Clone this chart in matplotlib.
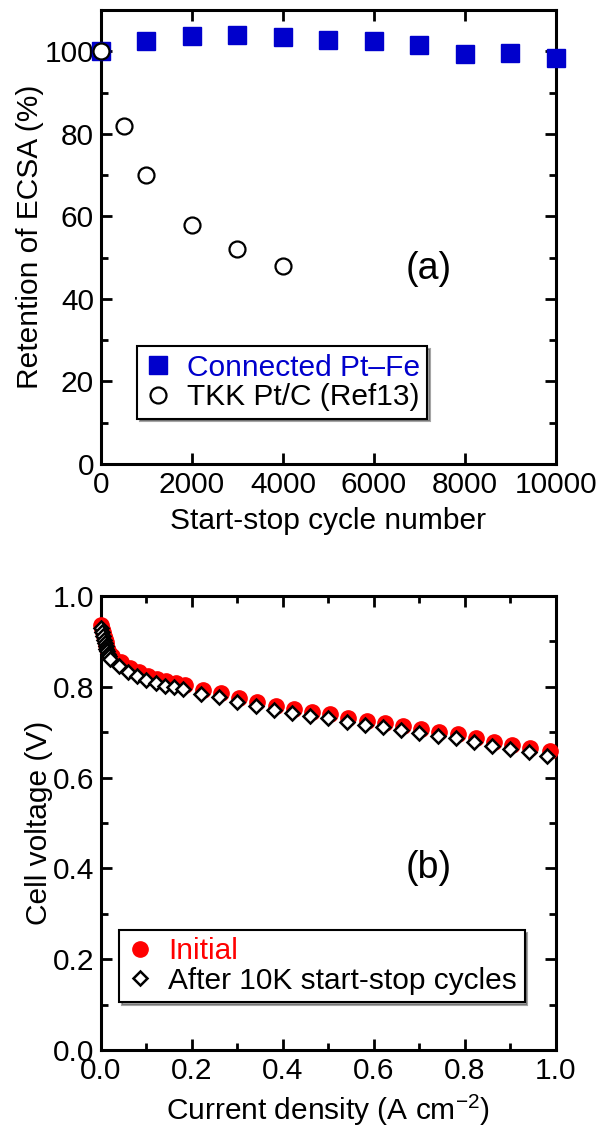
import matplotlib.pyplot as plt
from matplotlib.ticker import MultipleLocator

plt.rcParams["font.family"] = ["Liberation Sans", "DejaVu Sans"]
plt.rcParams["mathtext.fontset"] = "custom"
plt.rcParams["mathtext.rm"] = "Liberation Sans"

# (a) ECSA retention
cycles_ptfe = [0, 1000, 2000, 3000, 4000, 5000, 6000, 7000, 8000, 9000, 10000]
ecsa_ptfe = [100, 102.5, 103.7, 104.0, 103.4, 102.8, 102.5, 101.6, 99.4, 99.6, 98.4]
cycles_tkk = [0, 500, 1000, 2000, 3000, 4000]
ecsa_tkk = [100, 82, 70, 58, 52, 48]

# (b) polarization curves
j_after = [0.0, 0.002, 0.004, 0.006, 0.008, 0.010, 0.012, 0.014, 0.016, 0.018,
           0.02, 0.04, 0.06, 0.08, 0.10, 0.12, 0.14, 0.16, 0.18,
           0.22, 0.26, 0.30, 0.34, 0.38, 0.42, 0.46, 0.50, 0.54, 0.58, 0.62,
           0.66, 0.70, 0.74, 0.78, 0.82, 0.86, 0.90, 0.94, 0.98]
v_after = [0.930, 0.921, 0.912, 0.904, 0.897, 0.890, 0.884, 0.878, 0.872, 0.867,
           0.861, 0.845, 0.832, 0.823, 0.815, 0.808, 0.803, 0.799, 0.795,
           0.784, 0.777, 0.766, 0.758, 0.749, 0.742, 0.735, 0.731, 0.723, 0.716, 0.711,
           0.704, 0.698, 0.692, 0.687, 0.679, 0.670, 0.663, 0.657, 0.648]
j_init = [0.0, 0.002, 0.004, 0.006, 0.008, 0.010, 0.012, 0.014, 0.016, 0.018,
          0.024, 0.044, 0.064, 0.084, 0.104, 0.124, 0.144, 0.164, 0.184,
          0.224, 0.264, 0.304, 0.344, 0.384, 0.424, 0.464, 0.504, 0.544, 0.584, 0.624,
          0.664, 0.704, 0.744, 0.784, 0.824, 0.864, 0.904, 0.944, 0.986]
v_init = [0.936, 0.928, 0.920, 0.912, 0.905, 0.898, 0.892, 0.886, 0.880, 0.875,
          0.869, 0.854, 0.841, 0.832, 0.824, 0.817, 0.812, 0.808, 0.804,
          0.793, 0.786, 0.775, 0.767, 0.758, 0.751, 0.744, 0.740, 0.732, 0.725, 0.720,
          0.713, 0.707, 0.701, 0.696, 0.688, 0.679, 0.672, 0.666, 0.658]

fig = plt.figure(figsize=(6.01, 11.29), dpi=100)
ax1 = fig.add_axes([0.168, 0.589, 0.757, 0.402])
ax2 = fig.add_axes([0.168, 0.070, 0.757, 0.402])

blue = "#0000CC"
fs = 21.5

ax1.plot(cycles_ptfe, ecsa_ptfe, "s", color=blue, ms=13, mec=blue, clip_on=False, zorder=3,
         label="Connected Pt\u2013Fe")
ax1.plot(cycles_tkk, ecsa_tkk, "o", mfc="white", mec="black", mew=1.6, ms=11.5, clip_on=False,
         zorder=4, label="TKK Pt/C (Ref13)")
ax1.set_xlim(0, 10000)
ax1.set_ylim(0, 110)
ax1.xaxis.set_major_locator(MultipleLocator(2000))
ax1.yaxis.set_major_locator(MultipleLocator(20))
ax1.yaxis.set_minor_locator(MultipleLocator(10))
ax1.set_xlabel("Start-stop cycle number", fontsize=fs, labelpad=6)
ax1.set_ylabel("Retention of ECSA (%)", fontsize=fs, labelpad=0)
ax1.text(0.72, 0.43, "(a)", transform=ax1.transAxes, fontsize=27, ha="center", va="center")
leg1 = ax1.legend(loc="lower left", bbox_to_anchor=(0.08, 0.10), fontsize=fs, frameon=True,
                  fancybox=False, shadow=True, edgecolor="black", handlelength=0.9,
                  handletextpad=0.5, borderpad=0.25, labelspacing=0.05, borderaxespad=0)
leg1.get_frame().set_linewidth(1.5)
leg1.get_texts()[0].set_color(blue)

ax2.plot(j_init, v_init, "o", color="red", ms=11, clip_on=False, zorder=3, label="Initial")
ax2.plot(j_after, v_after, "D", mfc="white", mec="black", mew=1.8, ms=7.5, clip_on=False,
         zorder=4, label="After 10K start-stop cycles")
ax2.set_xlim(0, 1.0)
ax2.set_ylim(0, 1.0)
ax2.xaxis.set_major_locator(MultipleLocator(0.2))
ax2.xaxis.set_minor_locator(MultipleLocator(0.1))
ax2.yaxis.set_major_locator(MultipleLocator(0.2))
ax2.yaxis.set_minor_locator(MultipleLocator(0.1))
ax2.xaxis.set_major_formatter(plt.FormatStrFormatter("%.1f"))
ax2.yaxis.set_major_formatter(plt.FormatStrFormatter("%.1f"))
ax2.set_xlabel("Current density (A cm$^{\u22122}$)", fontsize=fs, labelpad=5)
ax2.set_ylabel("Cell voltage (V)", fontsize=fs, labelpad=0)
ax2.text(0.72, 0.40, "(b)", transform=ax2.transAxes, fontsize=27, ha="center", va="center")
leg2 = ax2.legend(loc="lower left", bbox_to_anchor=(0.04, 0.105), fontsize=fs, frameon=True,
                  fancybox=False, shadow=True, edgecolor="black", handlelength=0.9,
                  handletextpad=0.5, borderpad=0.25, labelspacing=0.05, borderaxespad=0)
leg2.get_frame().set_linewidth(1.5)
leg2.get_texts()[0].set_color("red")

for ax in (ax1, ax2):
    for s in ax.spines.values():
        s.set_linewidth(2.2)
    ax.tick_params(which="both", direction="in", top=True, right=True, labelsize=fs, width=2)
    ax.tick_params(which="major", length=8, pad=5)
    ax.tick_params(which="minor", length=5)

fig.savefig("out.png", dpi=100)
